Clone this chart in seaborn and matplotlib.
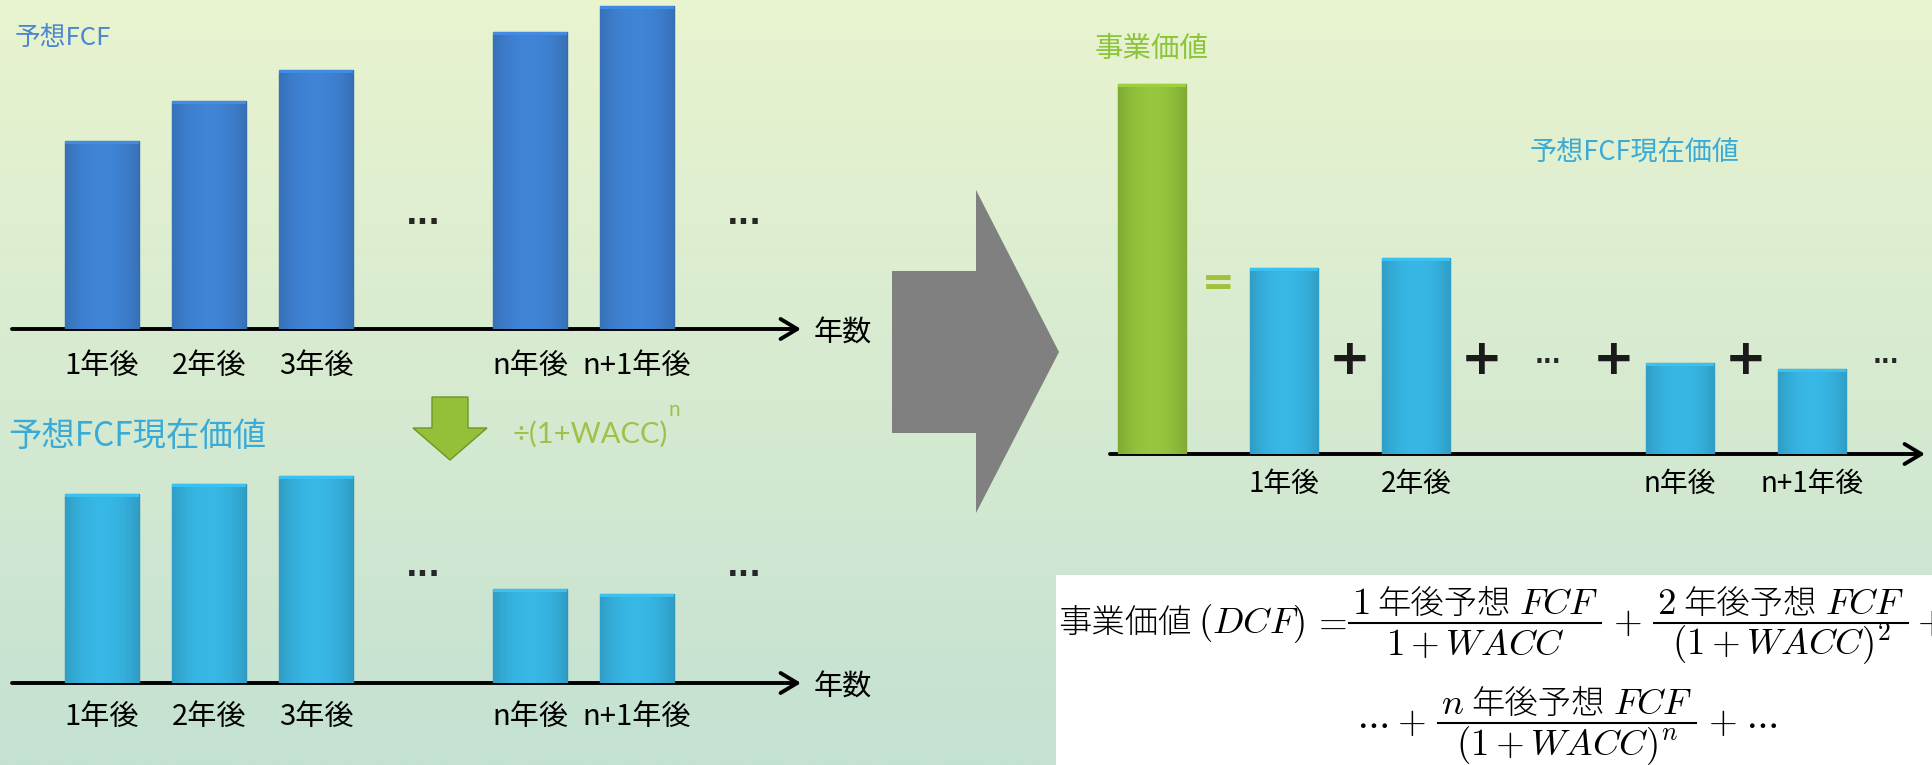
import numpy as np
import pandas as pd
import matplotlib
matplotlib.use("Agg")
import matplotlib.pyplot as plt
import seaborn as sns
from matplotlib.patches import Polygon, Rectangle
from matplotlib.colors import to_rgb

# ---------------- data ----------------
left_years = ["1年後", "2年後", "3年後", "n年後", "n+1年後"]
fcf_values = [188, 228, 259, 297, 323]          # 予想FCF
pv_values = [189, 199, 207, 94, 89]             # 予想FCF現在価値
left_order = ["1年後", "2年後", "3年後", "gap1", "n年後", "n+1年後", "gap2"]
left_ticks = [0, 1, 2, 4, 5]

right_cats = ["事業価値", "1年後", "2年後", "n年後", "n+1年後"]
right_values = [370, 186, 196, 91, 85]
right_order = ["事業価値", "1年後", "2年後", "gap1", "n年後", "n+1年後"]
right_ticks = [1, 2, 4, 5]
right_ticklabels = ["1年後", "2年後", "n年後", "n+1年後"]

# ---------------- style ----------------
sns.set_theme(style="white")
plt.rcParams["font.family"] = ["Noto Sans CJK JP", "DejaVu Sans"]
plt.rcParams["mathtext.fontset"] = "cm"

W, H = 1933, 765
fig = plt.figure(figsize=(W / 100, H / 100), dpi=100)

BLUE = "#3d7ecd"
CYAN = "#35afdb"
GREEN = "#8fbd3a"


def darker(c, f=0.8):
    r, g, b = to_rgb(c)
    return (r * f, g * f, b * f)


def px_axes(left, top, right, bottom, **kw):
    return fig.add_axes([left / W, 1 - bottom / H, (right - left) / W, (bottom - top) / H], **kw)


# background gradient
bg = fig.add_axes([0, 0, 1, 1], zorder=-10)
top_c = np.array([233, 244, 207]) / 255
bot_c = np.array([196, 225, 210]) / 255
t = np.linspace(0, 1, 256)[:, None, None]
grad = top_c[None, None, :] * (1 - t) + bot_c[None, None, :] * t
bg.imshow(grad, aspect="auto", extent=[0, W, H, 0])
bg.set_xlim(0, W)
bg.set_ylim(H, 0)
bg.axis("off")


def gloss(ax):
    """soft horizontal shading on every bar drawn by seaborn"""
    xs = np.linspace(-1, 1, 64)
    shade = 1.05 - 0.15 * xs ** 2
    for p in list(ax.patches):
        h = p.get_height()
        if not np.isfinite(h) or h == 0:
            continue
        base = np.array(to_rgb(p.get_facecolor()))
        img = np.clip(base[None, :] * shade[:, None], 0, 1)[None, :, :]
        x0, y0, w = p.get_x(), p.get_y(), p.get_width()
        im = ax.imshow(img, extent=[x0, x0 + w, y0, y0 + h], aspect="auto",
                       zorder=p.get_zorder() + 0.1, interpolation="bilinear")
        im.set_clip_path(p)
        ax.fill_between([x0, x0 + w], y0 + h - 3, y0 + h,
                        color=np.clip(base * 1.1, 0, 1), zorder=p.get_zorder() + 0.2,
                        lw=0, clip_path=p)


def bar_chart(rect, order, cats, vals, palette, width, slot0_px, slot_px, ymax,
              ticks, ticklabels, pad, fs):
    left, top, right, bottom = rect
    ax = px_axes(left, top, right, bottom, zorder=2)
    df = pd.DataFrame({"cat": cats, "val": vals})
    sns.barplot(data=df, x="cat", y="val", order=order, hue="cat", palette=palette,
                width=width, saturation=1, dodge=False, legend=False,
                errorbar=None, ax=ax, zorder=2)
    for p in ax.patches:
        p.set_edgecolor(darker(p.get_facecolor()[:3], 0.85))
        p.set_linewidth(1.0)
    gloss(ax)
    ax.set_xlim(-(slot0_px - left) / slot_px, (right - slot0_px) / slot_px)
    ax.set_ylim(0, ymax)
    for s in ax.spines.values():
        s.set_visible(False)
    ax.set_facecolor("none")
    ax.set_xlabel("")
    ax.set_ylabel("")
    ax.set_yticks([])
    ax.set_xticks(ticks)
    ax.set_xticklabels(ticklabels, fontsize=fs, color="black")
    ax.tick_params(axis="x", length=0, pad=pad)
    ax.annotate("", xy=(1, 0), xytext=(0, 0), xycoords="axes fraction",
                annotation_clip=False,
                arrowprops=dict(arrowstyle="->,head_length=0.5,head_width=0.3",
                                lw=2.8, color="black", shrinkA=0, shrinkB=0,
                                mutation_scale=24), zorder=1)
    return ax


DOTS = dict(ha="center", va="center", fontsize=22, fontweight="bold", family="DejaVu Sans")

# ---- top-left: 予想FCF ----
ax1 = bar_chart((12, 0, 801, 329), left_order, left_years, fcf_values,
                {c: BLUE for c in left_years}, 0.69, 102, 107, 329,
                left_ticks, left_years, 16, 21)
ax1.text(3, 113, "...", **DOTS)
ax1.text(6, 113, "...", **DOTS)

# ---- bottom-left: 予想FCF現在価値 ----
ax2 = bar_chart((12, 383, 801, 683), left_order, left_years, pv_values,
                {c: CYAN for c in left_years}, 0.69, 102, 107, 300,
                left_ticks, left_years, 14, 21)
ax2.text(3, 116, "...", **DOTS)
ax2.text(6, 116, "...", **DOTS)

# ---- right: 事業価値 = sum ----
pal_r = {c: (GREEN if c == "事業価値" else CYAN) for c in right_cats}
ax3 = bar_chart((1110, 54, 1925, 454), right_order, right_cats, right_values,
                pal_r, 0.52, 1152, 132, 400, right_ticks, right_ticklabels, 11, 20)
for xs in [1.5, 2.5, 3.5, 4.5]:
    ax3.text(xs, 94, "+", ha="center", va="center", fontsize=36, fontweight="bold",
             family="DejaVu Sans", color="#1a1a1a")
ax3.text(3, 98, "...", ha="center", va="center", fontsize=17, fontweight="bold",
         family="DejaVu Sans")
ax3.text(5.56, 98, "...", ha="center", va="center", fontsize=17, fontweight="bold",
         family="DejaVu Sans")
ax3.text(0.5, 170, "=", ha="center", va="center", fontsize=28, fontweight="bold",
         family="DejaVu Sans", color="#a3bf3c")

# ---------------- overlay: shapes and labels ----------------
ov = fig.add_axes([0, 0, 1, 1], zorder=5)
ov.set_xlim(0, W)
ov.set_ylim(H, 0)
ov.axis("off")
ov.patch.set_alpha(0)

# titles
ov.text(15, 38, "予想FCF", color="#4b87cf", fontsize=18.5, va="center", ha="left")
ov.text(8, 436, "予想FCF現在価値", color="#3aaad6", fontsize=24, va="center", ha="left")
ov.text(1095, 49, "事業価値", color="#8cc43c", fontsize=20.5, va="center", ha="left")
ov.text(1635, 152, "予想FCF現在価値", color="#3aaad6", fontsize=19.5, va="center", ha="center")
ov.text(814, 334, "年数", fontsize=21, va="center", ha="left", color="black")
ov.text(814, 688, "年数", fontsize=21, va="center", ha="left", color="black")

# green down arrow + divisor
ov.add_patch(Polygon([(432, 397), (468, 397), (468, 428), (487, 428), (450, 460),
                      (413, 428), (432, 428)], closed=True, facecolor="#93c038",
                     edgecolor="#6e9624", lw=1))
div_text = ov.text(512, 434, "÷(1+WACC)", color="#a2bf4a", fontsize=21, va="center",
                   ha="left", family=["Lato", "DejaVu Sans"])

# big grey arrow
ov.add_patch(Polygon([(892, 271), (976, 271), (976, 190), (1059, 352), (976, 513),
                      (976, 433), (892, 433)], closed=True, facecolor="#808080",
                     edgecolor="none"))

# formula box
ov.add_patch(Rectangle((1056, 575), W - 1056, H - 575, facecolor="white",
                       edgecolor="none"))

fig.canvas.draw()
renderer = fig.canvas.get_renderer()

# superscript n right after the closing parenthesis
bb = div_text.get_window_extent(renderer=renderer)
ov.text(bb.x1 + 1, 410, "n", color="#a2bf4a", fontsize=15, va="center", ha="left",
        family=["Lato", "DejaVu Sans"])

# ---------------- formula ----------------
CJK = dict(family=["Noto Sans CJK JP", "DejaVu Sans"], fontsize=24, fontweight="light")
MATH = dict(fontsize=26.5)


def T(s, style=MATH):
    return ov.text(0, 0, s, ha="left", va="baseline", color="black", zorder=6, **style)


def wid(item):
    if isinstance(item, (int, float)):
        return item
    if isinstance(item, dict):
        return item["w"]
    return item.get_window_extent(renderer=renderer).width


def seq_width(items):
    return sum(wid(i) for i in items)


def place_seq(items, x, yb):
    for it in items:
        if isinstance(it, (int, float)):
            x += it
        elif isinstance(it, dict):
            place_frac(it, x, yb)
            x += it["w"]
        else:
            it.set_position((x, yb))
            x += wid(it)
    return x


def FRAC(num, den, pad=4):
    wn, wd = seq_width(num), seq_width(den)
    return {"num": num, "den": den, "wn": wn, "wd": wd, "w": max(wn, wd) + 2 * pad}


def place_frac(f, x, yb):
    bar = yb - 10
    cx = x + f["w"] / 2
    ov.plot([x, x + f["w"]], [bar, bar], color="black", lw=1.5, zorder=6,
            solid_capstyle="butt")
    place_seq(f["num"], cx - f["wn"] / 2, bar - 9)
    place_seq(f["den"], cx - f["wd"] / 2, bar + 32)


line1 = [T("事業価値", CJK), 7, T("$(DCF)$"), 6, T("$=$"), 1,
         FRAC([T("$1$"), 8, T("年後予想", CJK), 8, T("$FCF$")], [T("$1+WACC$")]),
         11, T("$+$"), 11,
         FRAC([T("$2$"), 8, T("年後予想", CJK), 8, T("$FCF$")], [T("$(1+WACC)^2$")]),
         8, T("$+$")]
place_seq(line1, 1058, 633)

line2 = [T("$\\cdots$"), 9, T("$+$"), 11,
         FRAC([T("$n$"), 8, T("年後予想", CJK), 8, T("$FCF$")], [T("$(1+WACC)^n$")]),
         11, T("$+$"), 9, T("$\\cdots$")]
place_seq(line2, 1356, 733)

fig.savefig("out.png", dpi=100)
